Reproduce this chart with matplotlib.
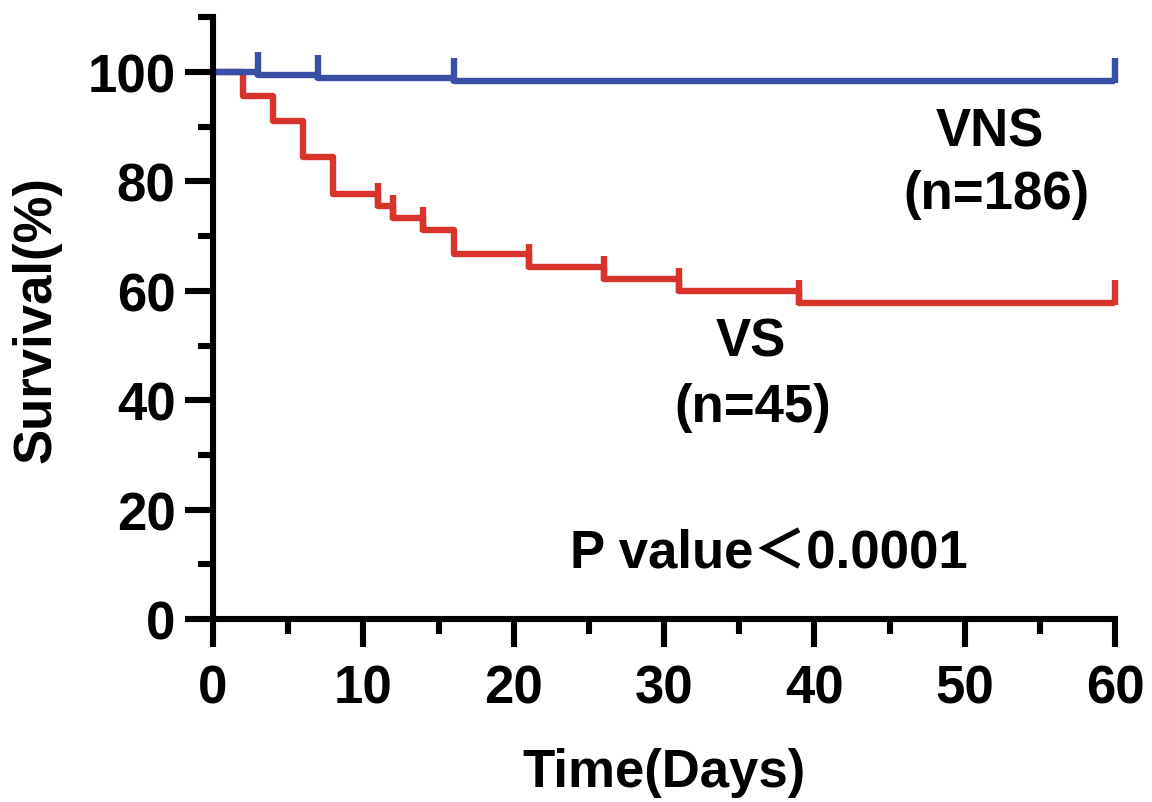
import numpy as np
import matplotlib
matplotlib.use('Agg')
import matplotlib.pyplot as plt
from matplotlib.ticker import MultipleLocator

plt.rcParams['font.family'] = ['Liberation Sans', 'Noto Sans CJK SC', 'DejaVu Sans']
plt.rcParams['font.weight'] = 'bold'

# Kaplan-Meier steps
vs_days = [0, 2, 4, 6, 8, 11, 12, 14, 16, 21, 26, 31, 39, 60]
vs_surv = [100, 95.56, 91.11, 84.44, 77.78, 75.56, 73.33, 71.11, 66.67, 64.44, 62.22, 60.0, 57.78, 57.78]
vs_censored = [11, 12, 14, 21, 26, 31, 39, 60]

vns_days = [0, 3, 7, 16, 60]
vns_surv = [100, 99.46, 98.92, 98.38, 98.38]
vns_censored = [3, 7, 16, 60]

red = '#D8342B'
blue = '#3A4EA6'
tick_h = 4.2  # censor tick height in %


def level_at(days, surv, t):
    i = np.searchsorted(days, t, side='right') - 1
    return surv[i]


fig = plt.figure(figsize=(11.52, 8.03), dpi=100)
ax = fig.add_axes([0.1849, 0.2279, 0.9679 - 0.1849, 0.9772 - 0.2279])

for days, surv, cens, col in [(vs_days, vs_surv, vs_censored, red),
                              (vns_days, vns_surv, vns_censored, blue)]:
    ax.step(days, surv, where='post', color=col, lw=4.6, clip_on=False, solid_capstyle='butt')
    lv = np.array([level_at(days, surv, t) for t in cens])
    ax.vlines(cens, lv - 0.4, lv + tick_h, color=col, lw=4.6, clip_on=False)

ax.set_xlim(0, 60)
ax.set_ylim(0, 110)
ax.xaxis.set_major_locator(MultipleLocator(10))
ax.xaxis.set_minor_locator(MultipleLocator(5))
ax.yaxis.set_major_locator(MultipleLocator(20))
ax.yaxis.set_minor_locator(MultipleLocator(10))
ax.set_yticks([0, 20, 40, 60, 80, 100])

for s in ['top', 'right']:
    ax.spines[s].set_visible(False)
for s in ['left', 'bottom']:
    ax.spines[s].set_linewidth(4.4)

ax.tick_params(which='major', length=20, width=4.4, labelsize=38, pad=7)
ax.tick_params(axis='x', which='major', pad=12)
ax.tick_params(which='minor', length=11, width=4.4)
for lab in ax.get_xticklabels() + ax.get_yticklabels():
    lab.set_fontweight('bold')

ax.set_xlabel('Time(Days)', fontsize=38, fontweight='bold')
ax.set_ylabel('Survival(%)', fontsize=38, fontweight='bold')
ax.xaxis.set_label_coords(0.5, -0.212)
ax.yaxis.set_label_coords(-0.168, 0.5)

ax.text(51.7, 89.2, 'VNS', fontsize=38, fontweight='bold', ha='center', va='center')
ax.text(52.1, 77.7, '(n=186)', fontsize=38, fontweight='bold', ha='center', va='center')
ax.text(35.8, 50.8, 'VS', fontsize=38, fontweight='bold', ha='center', va='center')
ax.text(35.9, 38.8, '(n=45)', fontsize=38, fontweight='bold', ha='center', va='center')
ax.text(37.0, 11.9, 'P value\uff1c0.0001', fontsize=38, fontweight='bold', ha='center', va='center')

fig.savefig('out.png', dpi=100)
